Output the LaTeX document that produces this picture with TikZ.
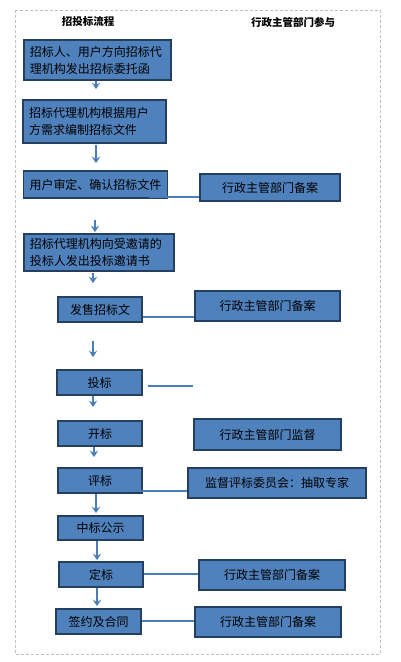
\documentclass[tikz,border=0pt]{standalone}
\usepackage{fontspec}
\setmainfont{Noto Sans CJK SC}
\usetikzlibrary{arrows.meta}
\definecolor{boxfill}{HTML}{4F81BD}
\definecolor{boxdraw}{HTML}{243F60}
\definecolor{lineblue}{HTML}{4A7EBB}
\definecolor{framegray}{HTML}{BFBFBF}
\tikzset{
  box/.style={draw=boxdraw, fill=boxfill, line width=1.9pt, inner sep=0pt, text=black, font=\fontsize{12}{17}\selectfont},
  lbox/.style={box, align=left, inner xsep=6pt},
  sbox/.style={box, align=center},
  arr/.style={draw=lineblue, line width=2pt, -{Stealth[length=6.5pt,width=8.5pt,inset=2.5pt]}},
  conn/.style={draw=lineblue, line width=1.6pt},
  head/.style={font=\fontsize{10.5}{12}\selectfont\bfseries, inner sep=0pt},
}
\begin{document}
\begin{tikzpicture}[x=1pt,y=-1pt]
\useasboundingbox (0,0) rectangle (401,662);
\draw[framegray, line width=0.8pt, dash pattern=on 3pt off 2pt] (15,10) rectangle (380,654);
\node[head] (h1) at (88,22) {招投标流程};
\node[head] (h2) at (293,22) {行政主管部门参与};
% left column
\node[lbox, text width=135pt, minimum height=40pt] (b1) at (97.5,60) {招标人、用户方向招标代\\理机构发出招标委托函};
\node[lbox, text width=131pt, minimum height=43pt] (b2) at (94.5,121.5) {招标代理机构根据用户\\方需求编制招标文件};
\node[lbox, text width=132pt, minimum height=27pt] (b3) at (95.5,184.5) {用户审定、确认招标文件};
\node[lbox, text width=138pt, minimum height=37pt] (b4) at (99,252.5) {招标代理机构向受邀请的\\投标人发出投标邀请书};
\node[sbox, minimum width=84pt, minimum height=25pt] (b5) at (100,309.5) {发售招标文};
\node[sbox, minimum width=85pt, minimum height=25pt] (b6) at (99.5,382.5) {投标};
\node[sbox, minimum width=84pt, minimum height=25pt] (b7) at (100,433.5) {开标};
\node[sbox, minimum width=84pt, minimum height=25pt] (b8) at (100,480.5) {评标};
\node[sbox, minimum width=85pt, minimum height=24pt] (b9) at (100.5,528) {中标公示};
\node[sbox, minimum width=84pt, minimum height=25pt] (b10) at (101,574.5) {定标};
\node[sbox, minimum width=85pt, minimum height=25pt] (b11) at (98.5,621.5) {签约及合同};
% right column
\node[sbox, minimum width=140pt, minimum height=27pt] (r1) at (270,187.5) {行政主管部门备案};
\node[sbox, minimum width=145pt, minimum height=30pt] (r2) at (267.5,306) {行政主管部门备案};
\node[sbox, minimum width=147pt, minimum height=31pt] (r3) at (267.5,434.5) {行政主管部门监督};
\node[sbox, minimum width=178pt, minimum height=30pt] (r4) at (277,483) {监督评标委员会：抽取专家};
\node[sbox, minimum width=146pt, minimum height=30pt] (r5) at (272,575) {行政主管部门备案};
\node[sbox, minimum width=146pt, minimum height=30pt] (r6) at (268,622) {行政主管部门备案};
\coordinate (c3end) at (193,386);
% arrows
\draw[arr, shorten >=10pt] (b1.south -| 96,0) -- (b2.north -| 96,0);
\draw[arr, shorten <=1pt, shorten >=7pt] (b2.south -| 96,0) -- (b3.north -| 96,0);
\draw[arr, shorten <=21pt, shorten >=1pt] (b3.south -| 95,0) -- (b4.north -| 95,0);
\draw[arr, shorten <=1pt, shorten >=13pt] (b4.south -| 93,0) -- (b5.north -| 93,0);
\draw[arr, shorten <=18pt, shorten >=12pt] (b5.south -| 93,0) -- (b6.north -| 93,0);
\draw[arr, shorten >=13pt] (b6.south -| 93,0) -- (b7.north -| 93,0);
\draw[arr, shorten >=10pt] (b7.south -| 94,0) -- (b8.north -| 94,0);
\draw[arr, shorten >=2pt] (b8.south -| 96,0) -- (b9.north -| 96,0);
\draw[arr, shorten >=1pt] (b9.south -| 97,0) -- (b10.north -| 97,0);
\draw[arr, shorten >=2pt] (b10.south -| 97,0) -- (b11.north -| 97,0);
% connectors
\draw[conn, shorten <=-19pt] (b3.east |- 0,197) -- (r1.west |- 0,197);
\draw[conn] (b5.east |- 0,317) -- (r2.west |- 0,317);
\draw[conn, shorten <=5pt] (b6.east |- c3end) -- (c3end);
\draw[conn, shorten <=-16pt] (b8.east |- 0,491) -- (r4.west |- 0,491);
\draw[conn] (b10.east |- 0,574) -- (r5.west |- 0,574);
\draw[conn] (b11.east |- 0,621) -- (r6.west |- 0,621);
\end{tikzpicture}
\end{document}
